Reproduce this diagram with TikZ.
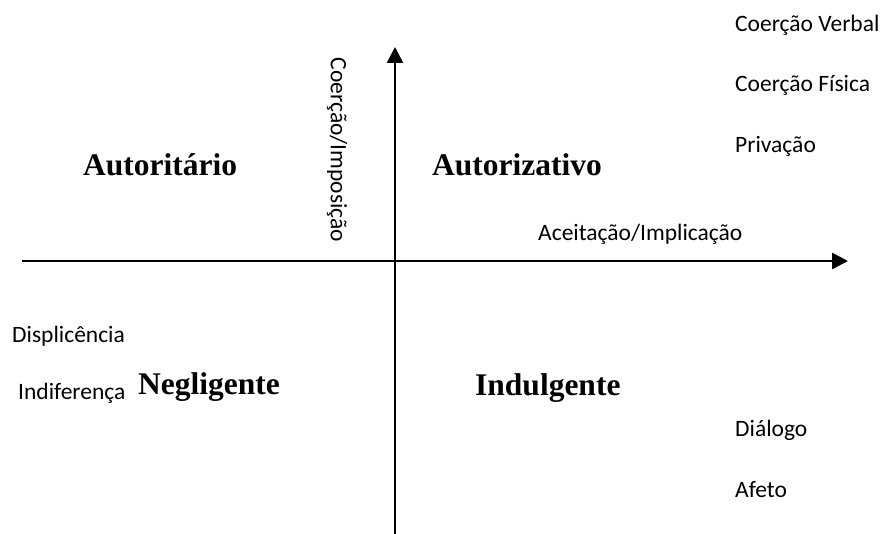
\documentclass[tikz,border=0pt]{standalone}
\usepackage{fontspec}
\newfontfamily\calfont{Carlito}
\newfontfamily\tnrfont{Liberation Serif}
\usetikzlibrary{arrows.meta}
\tikzset{
  axis/.style={line width=2.6pt, -{Triangle[length=16pt,width=16pt]}},
  lbl/.style={inner sep=0pt, anchor=base west, font=\calfont\fontsize{23.5}{28}\selectfont},
  quad/.style={inner sep=0pt, anchor=base west, font=\tnrfont\bfseries\fontsize{31.5}{36}\selectfont}
}
\begin{document}
\begin{tikzpicture}[x=1pt,y=-1pt]
\useasboundingbox (0,0) rectangle (885,534);
\coordinate (hl) at (22,261);
\coordinate (hr) at (848,261);
\coordinate (vb) at (395,534);
\coordinate (vt) at (395,47);
\draw[axis] (hl) -- (hr);
\draw[axis] (vb) -- (vt);

\node[quad] (autoritario) at (83,176) {Autoritário};
\node[quad] (autorizativo) at (432,176) {Autorizativo};
\node[quad] (negligente) at (138,394) {Negligente};
\node[quad] (indulgente) at (475,395) {Indulgente};

\node[lbl] (cv) at (735,32) {Coerção Verbal};
\node[lbl] (cf) at (735,92) {Coerção Física};
\node[lbl] (pr) at (735,153) {Privação};
\node[lbl] (ai) at (538,241) {Aceitação/Implicação};
\node[lbl] (di) at (12,342) {Displicência};
\node[lbl] (in) at (18,399) {Indiferença};
\node[lbl] (dia) at (735,436) {Diálogo};
\node[lbl] (af) at (735,497) {Afeto};
\node[inner sep=0pt, anchor=center, rotate=-90, font=\calfont\fontsize{23.5}{28}\selectfont] (ci) at (337,150) {Coerção/Imposição};
\end{tikzpicture}
\end{document}
